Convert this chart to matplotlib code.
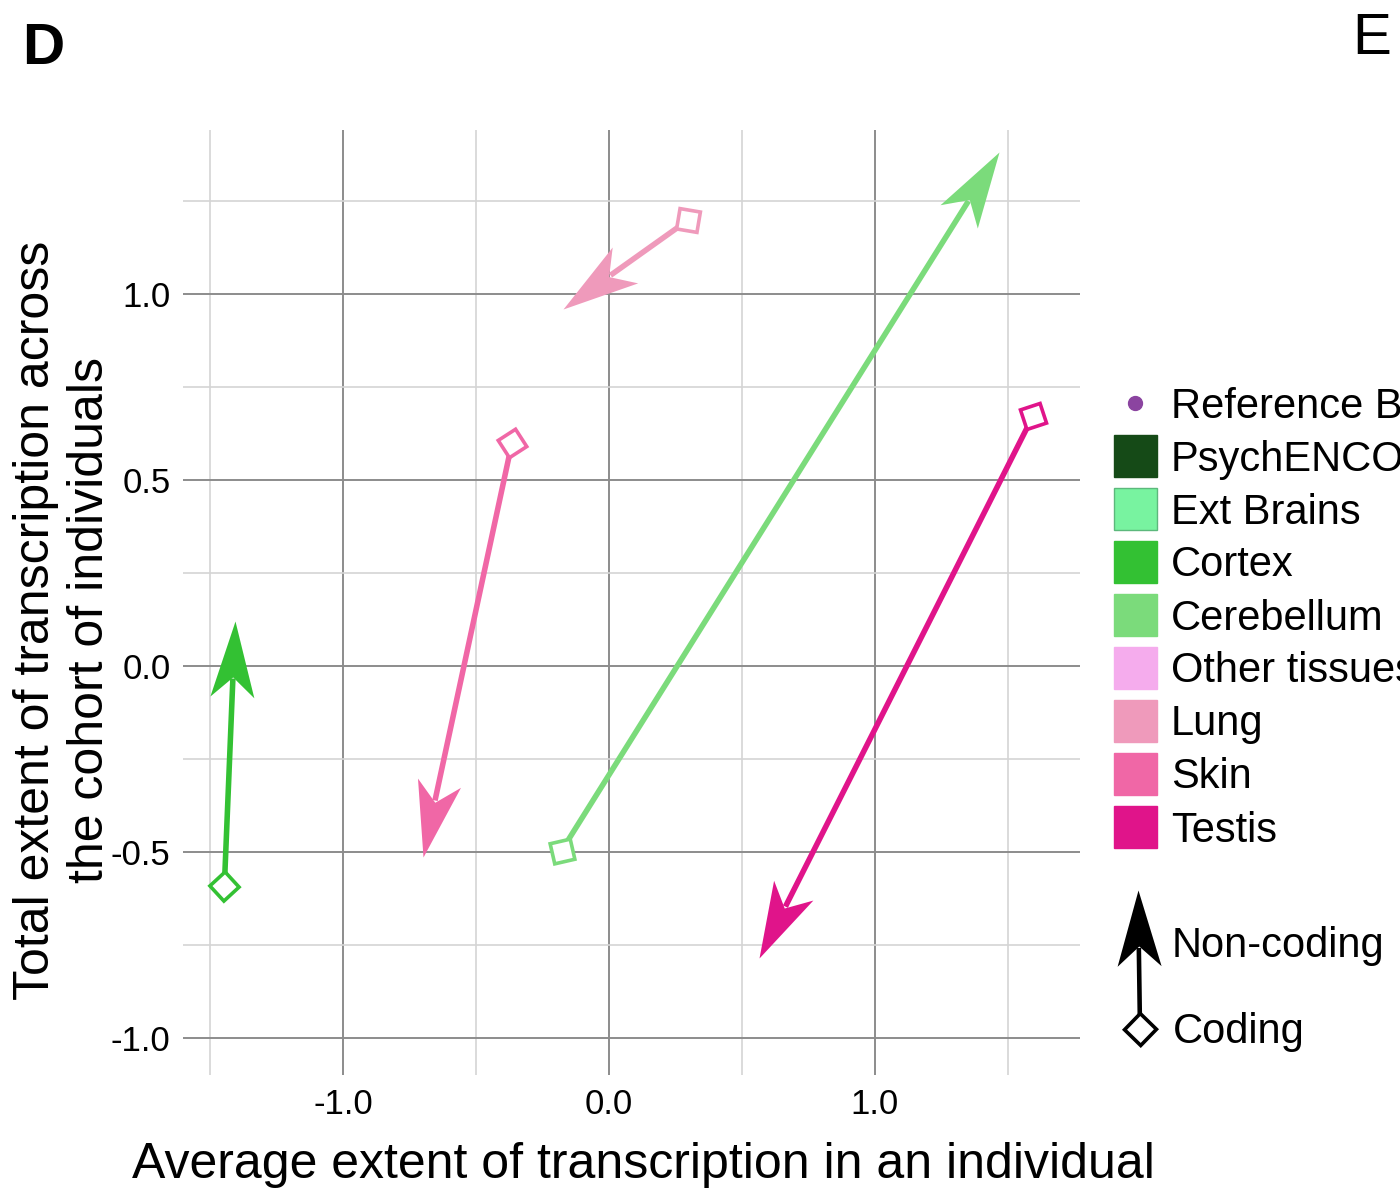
import numpy as np
import matplotlib
matplotlib.use('Agg')
import matplotlib.pyplot as plt
from matplotlib.path import Path
from matplotlib.markers import MarkerStyle
from matplotlib.transforms import Affine2D
from matplotlib.patches import Rectangle

plt.rcParams['font.family'] = ['Liberation Sans', 'DejaVu Sans']

# arrows: coding (diamond) -> non-coding (arrow head)
tissues = ['Cortex', 'Skin', 'Lung', 'Cerebellum', 'Testis']
coding_x = [-1.446, -0.365, 0.298, -0.178, 1.594]
coding_y = [-0.591, 0.599, 1.199, -0.496, 0.672]
noncoding_x = [-1.405, -0.700, -0.172, 1.467, 0.565]
noncoding_y = [0.122, -0.514, 0.960, 1.382, -0.786]

legend_labels = ['PsychENCODE', 'Ext Brains', 'Cortex', 'Cerebellum',
                 'Other tissues', 'Lung', 'Skin', 'Testis']
colors = {'PsychENCODE': '#154a17', 'Ext Brains': '#78f3a0',
          'Cortex': '#33c133', 'Cerebellum': '#7bdb7b',
          'Other tissues': '#f5aced', 'Lung': '#ef9abb',
          'Skin': '#f067a6', 'Testis': '#e0148a'}
ref_color = '#8b44a0'

x_major = [-1.0, 0.0, 1.0]
x_minor = [-1.5, -0.5, 0.5, 1.5]
y_major = [-1.0, -0.5, 0.0, 0.5, 1.0]
y_minor = [-0.75, -0.25, 0.25, 0.75, 1.25]

W, H = 1400, 1194
fig = plt.figure(figsize=(W / 100, H / 100), dpi=100)
ax = fig.add_axes([183 / W, 1 - 1075 / H, (1080 - 183) / W, (1075 - 130) / H])
ax.set_xlim(-1.6015, 1.7707)
ax.set_ylim(-1.0995, 1.4409)
for s in ax.spines.values():
    s.set_visible(False)
ax.set_xticks(x_major)
ax.set_xticklabels(['-1.0', '0.0', '1.0'])
ax.set_yticks(y_major)
ax.set_yticklabels(['-1.0', '-0.5', '0.0', '0.5', '1.0'])
ax.set_xticks(x_minor, minor=True)
ax.set_yticks(y_minor, minor=True)
ax.tick_params(which='both', length=0, labelsize=25, pad=9, labelcolor='black')
ax.grid(which='major', color='#8c8c8c', lw=1.4)
ax.grid(which='minor', color='#d4d4d4', lw=1.2)
ax.set_axisbelow(True)

L, HW, NOTCH = 76, 22, 56  # arrow head size in pixels
head_path = Path([(0, 0), (-L, HW), (-NOTCH, 0), (-L, -HW), (0, 0)],
                 [Path.MOVETO, Path.LINETO, Path.LINETO, Path.LINETO, Path.CLOSEPOLY])


def draw_arrow(a, x0, y0, x1, y1, color, lw=4.0, dsize=21):
    p0 = a.transData.transform((x0, y0))
    p1 = a.transData.transform((x1, y1))
    d = p1 - p0
    theta = np.degrees(np.arctan2(d[1], d[0]))
    u = d / np.hypot(*d)
    notch = a.transData.inverted().transform(p1 - u * (NOTCH + 2))
    a.plot([x0, notch[0]], [y0, notch[1]], color=color, lw=lw,
           solid_capstyle='butt', zorder=3)
    head = MarkerStyle(head_path, transform=Affine2D().rotate_deg(theta))
    a.plot([x1], [y1], marker=head, ms=2 * L * 0.72, color=color,
           mew=0, zorder=4, linestyle='none')
    a.plot([x0], [y0], marker=(4, 0, theta - 90), ms=dsize, mfc='white',
           mec=color, mew=2.6, zorder=5, linestyle='none')


for t, x0, y0, x1, y1 in zip(tissues, coding_x, coding_y, noncoding_x, noncoding_y):
    draw_arrow(ax, x0, y0, x1, y1, colors[t])

# labels
fig.text(643 / W, 1 - 1165 / H, 'Average extent of transcription in an individual',
         ha='center', va='center', fontsize=36)
fig.text(63 / W, 1 - 620 / H,
         'Total extent of transcription across\nthe cohort of individuals',
         ha='center', va='center', rotation=90, fontsize=36,
         multialignment='center', linespacing=1.2)
fig.text(22 / W, 1 - 64 / H, 'D', fontsize=42, fontweight='bold', va='baseline')
fig.text(1352 / W, 1 - 54 / H, 'E', fontsize=42, va='baseline')

# legend overlay in pixel space
lg = fig.add_axes([0, 0, 1, 1])
lg.set_xlim(0, W)
lg.set_ylim(H, 0)
lg.axis('off')
lg.patch.set_alpha(0)

row0, step = 403, 53
lg.plot([1135], [row0], 'o', ms=10, color=ref_color)
lg.text(1171, row0 + 14.5, 'Reference Brains', fontsize=30, va='baseline')
for i, lab in enumerate(legend_labels):
    yc = row0 + step * (i + 1)
    ec = '#5cb87c' if lab == 'Ext Brains' else colors[lab]
    lg.add_patch(Rectangle((1114, yc - 21), 43, 42, facecolor=colors[lab],
                           edgecolor=ec, lw=1))
    lg.text(1171, yc + 14.5, lab, fontsize=30, va='baseline')

draw_arrow(lg, 1140, 1029, 1138, 890, 'black', lw=3.3, dsize=23)
lg.text(1172, 957, 'Non-coding', fontsize=30, va='baseline')
lg.text(1173, 1043, 'Coding', fontsize=30, va='baseline')

fig.savefig('out.png', dpi=100)
